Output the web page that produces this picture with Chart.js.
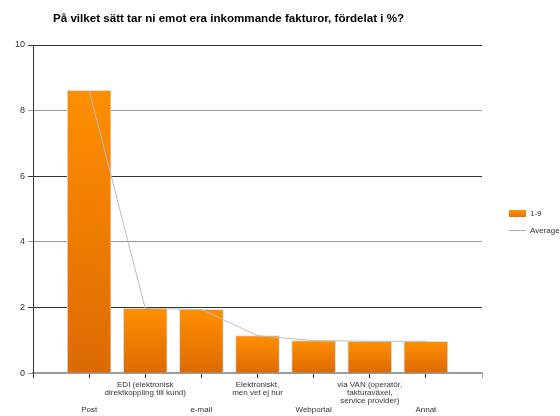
<!DOCTYPE html>
<html>
<head>
<meta charset="utf-8">
<script src="https://cdn.jsdelivr.net/npm/chart.js@4/dist/chart.umd.min.js"></script>
<style>
  html, body { margin: 0; padding: 0; background: #fff; }
  #wrap { width: 560px; height: 416px; }
</style>
</head>
<body>
<div id="wrap"><canvas id="chart" width="560" height="416"></canvas></div>
<script>
// Chart data
const chartTitle = 'På vilket sätt tar ni emot era inkommande fakturor, fördelat i %?';
const categories = [
  ['', '', '', 'Post'],
  ['EDI (elektronisk', 'direktkoppling till kund)'],
  ['', '', '', 'e-mail'],
  ['Elektroniskt,', 'men vet ej hur'],
  ['', '', '', 'Webportal'],
  ['via VAN (operatör,', 'fakturaväxel,', 'service provider)'],
  ['', '', '', 'Annat']
];
const barValues = [8.62, 1.97, 1.94, 1.14, 0.99, 0.97, 0.97];
const averageValues = [8.62, 1.97, 1.94, 1.14, 0.99, 0.97, 0.97];
const yTicks = [0, 2, 4, 6, 8, 10];
const seriesNames = ['1-9', 'Average'];

// empty slot at each end so the bars sit on the inner ticks
const labels = [''].concat(categories, ['']);
const pad = arr => [null].concat(arr, [null]);

const FONT = "'Liberation Sans', Arial, sans-serif";

function barGradient(context) {
  const chart = context.chart;
  if (!chart.chartArea || context.parsed == null) return '#f28500';
  const y = chart.scales.y;
  const top = y.getPixelForValue(context.parsed.y);
  const bottom = y.getPixelForValue(0);
  if (!isFinite(top) || !isFinite(bottom) || top === bottom) return '#f28500';
  const g = chart.ctx.createLinearGradient(0, top, 0, bottom);
  g.addColorStop(0, '#ff8f00');
  g.addColorStop(1, '#dc6a04');
  return g;
}

// title drawn left of centre like the original
const titlePlugin = {
  id: 'sideTitle',
  afterDraw(chart) {
    const ctx = chart.ctx;
    ctx.save();
    ctx.font = 'bold 11.6px ' + FONT;
    ctx.fillStyle = '#000';
    ctx.textBaseline = 'middle';
    ctx.textAlign = 'left';
    ctx.fillText(chartTitle, 53, 19);
    ctx.restore();
  }
};

// small legend on the right
const legendPlugin = {
  id: 'sideLegend',
  afterDraw(chart) {
    const ctx = chart.ctx;
    const x = 509;
    ctx.save();
    ctx.font = '8px ' + FONT;
    ctx.textBaseline = 'middle';
    // bar item
    const g = ctx.createLinearGradient(0, 210, 0, 217);
    g.addColorStop(0, '#ff8f00');
    g.addColorStop(1, '#e87500');
    ctx.fillStyle = g;
    ctx.fillRect(x, 210, 17, 7);
    ctx.fillStyle = '#333';
    ctx.fillText(chart.data.datasets[1].label, x + 21, 213.5);
    // line item
    ctx.strokeStyle = '#aaa';
    ctx.lineWidth = 1;
    ctx.beginPath();
    ctx.moveTo(x, 230.5);
    ctx.lineTo(x + 17, 230.5);
    ctx.stroke();
    ctx.fillText(chart.data.datasets[0].label, x + 21, 230.5);
    ctx.restore();
  }
};

const ctx = document.getElementById('chart').getContext('2d');
const chart = new Chart(ctx, {
  type: 'bar',
  data: {
    labels: labels,
    datasets: [
      {
        type: 'line',
        label: seriesNames[1],
        data: pad(averageValues),
        borderColor: '#bdbdbd',
        borderWidth: 1,
        pointRadius: 0,
        tension: 0,
        fill: false
      },
      {
        label: seriesNames[0],
        data: pad(barValues),
        backgroundColor: barGradient,
        borderColor: '#dedede',
        borderWidth: 1,
        barThickness: 44
      }
    ]
  },
  options: {
    responsive: false,
    animation: false,
    layout: {
      padding: { top: 45, left: 12, right: 78, bottom: 0 }
    },
    plugins: {
      legend: { display: false },
      title: { display: false },
      tooltip: { enabled: false }
    },
    scales: {
      x: {
        offset: false,
        border: { color: '#9a9a9a', width: 2 },
        grid: {
          offset: false,
          drawOnChartArea: false,
          drawTicks: true,
          tickLength: 5,
          color: c => (c.index === labels.length - 1 ? '#aaa' : '#333')
        },
        ticks: {
          autoSkip: false,
          maxRotation: 0,
          minRotation: 0,
          padding: 2,
          color: '#333',
          font: { family: FONT, size: 8, lineHeight: 1.06 }
        }
      },
      y: {
        min: yTicks[0],
        max: yTicks[yTicks.length - 1],
        afterBuildTicks: axis => { axis.ticks = yTicks.map(v => ({ value: v })); },
        border: { color: '#333', width: 1 },
        grid: {
          tickLength: 5,
          lineWidth: 1,
          color: c => (c.tick && c.tick.value % 4 === 0 ? '#9a9a9a' : '#333')
        },
        ticks: {
          padding: 3,
          color: '#333',
          font: { family: FONT, size: 9 }
        }
      }
    }
  },
  plugins: [titlePlugin, legendPlugin]
});
</script>
</body>
</html>
